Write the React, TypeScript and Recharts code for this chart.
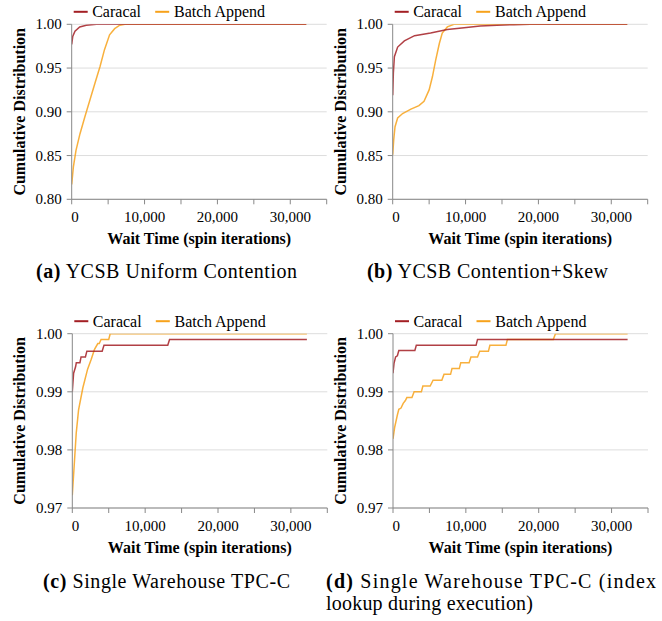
import React from 'react';
import { LineChart, Line, XAxis, YAxis, CartesianGrid } from 'recharts';

type Pair = [number, number];
type Pt = { x: number; y: number };
const toPts = (arr: Pair[]): Pt[] => arr.map(([x, y]) => ({ x, y }));

const FONT = "'Liberation Serif', 'Times New Roman', serif";

const seriesNames = ['Caracal', 'Batch Append'];
const seriesColors = ['#a31f24', '#f7a21b'];

const xTicks = [0, 5000, 10000, 15000, 20000, 25000, 30000, 35000];
const xLabelTicks = [0, 10000, 20000, 30000];
const yTicksWide = [0.8, 0.85, 0.9, 0.95, 1.0];
const yTicksNarrow = [0.97, 0.98, 0.99, 1.0];

const xTitle = 'Wait Time (spin iterations)';
const yTitle = 'Cumulative Distribution';

// (a) YCSB Uniform Contention
const uniformCaracal: Pair[] = [
  [0, 0.977], [140, 0.986], [450, 0.992], [1100, 0.997], [2000, 0.999], [3400, 1.0], [32200, 1.0],
];
const uniformBatch: Pair[] = [
  [0, 0.817], [230, 0.837], [590, 0.856], [1140, 0.875], [1800, 0.894], [2500, 0.9135],
  [3200, 0.933], [3900, 0.952], [4500, 0.971], [5200, 0.988], [5900, 0.995], [6600, 0.999],
  [7300, 1.0], [32200, 1.0],
];

// (b) YCSB Contention+Skew
const skewCaracal: Pair[] = [
  [0, 0.919], [90, 0.944], [230, 0.963], [680, 0.974], [1600, 0.981], [3000, 0.987],
  [5200, 0.99], [7500, 0.994], [9800, 0.996], [12000, 0.998], [14300, 0.999],
  [16600, 0.9996], [18900, 1.0], [32200, 1.0],
];
const skewBatch: Pair[] = [
  [0, 0.851], [140, 0.868], [320, 0.883], [680, 0.893], [1360, 0.898], [2500, 0.903],
  [3600, 0.907], [4300, 0.912], [5000, 0.925], [5450, 0.94], [5900, 0.959], [6400, 0.978],
  [6800, 0.99], [7500, 0.997], [8400, 1.0], [32200, 1.0],
];

// (c) Single Warehouse TPC-C
const tpccCaracal: Pair[] = [
  [0, 0.99], [180, 0.9932], [450, 0.9943], [550, 0.995], [1050, 0.995], [1200, 0.996],
  [1800, 0.996], [2000, 0.997], [4100, 0.997], [4350, 0.998], [13100, 0.998],
  [13350, 0.999], [32200, 0.999],
];
const tpccBatch: Pair[] = [
  [0, 0.9722], [310, 0.9783], [540, 0.9829], [860, 0.9869], [1450, 0.9907], [2100, 0.9939],
  [2600, 0.9956], [3050, 0.9973], [3500, 0.9983], [3700, 0.9983], [3950, 0.999],
  [5000, 0.999], [5200, 1.0], [32200, 1.0],
];

// (d) Single Warehouse TPC-C (index lookup during execution)
const indexCaracal: Pair[] = [
  [0, 0.9932], [140, 0.9949], [360, 0.996], [600, 0.9962], [800, 0.9971], [3000, 0.9971],
  [3200, 0.998], [11400, 0.998], [11600, 0.999], [32200, 0.999],
];
const indexBatch: Pair[] = [
  [0, 0.9819], [230, 0.9839], [600, 0.986], [800, 0.987], [1100, 0.9872], [1400, 0.988],
  [1700, 0.9885], [1900, 0.989], [2600, 0.989], [2900, 0.99], [3900, 0.99], [4100, 0.991],
  [5100, 0.991], [5500, 0.992], [6700, 0.992], [7000, 0.993], [7900, 0.993], [8100, 0.994],
  [9100, 0.994], [9300, 0.995], [10450, 0.995], [10700, 0.996], [11600, 0.996],
  [11900, 0.997], [13100, 0.997], [13300, 0.998], [15500, 0.998], [15700, 0.999],
  [22000, 0.999], [22300, 1.0], [32200, 1.0],
];

const fmtThousands = (v: number) => String(v).replace(/\B(?=(\d{3})+(?!\d))/g, ',');

const XTick = (props: any) => {
  const { x, y, payload } = props;
  const v = payload.value as number;
  if (!xLabelTicks.includes(v)) return <g />;
  return (
    <text
      x={v === 0 ? x - 0.5 : x}
      y={y + 16}
      textAnchor={v === 0 ? 'start' : 'middle'}
      fontSize={15}
      fontFamily={FONT}
      fill="#000"
    >
      {fmtThousands(v)}
    </text>
  );
};

const YTick = (props: any) => {
  const { x, y, payload } = props;
  return (
    <text x={x} y={y + 5} textAnchor="end" fontSize={15} fontFamily={FONT} fill="#000">
      {(payload.value as number).toFixed(2)}
    </text>
  );
};

type PanelProps = {
  left: number;
  top: number;
  plotLeft: number;
  plotTop: number;
  plotWidth: number;
  plotHeight: number;
  yDomain: [number, number];
  yTicks: number[];
  caracal: Pair[];
  batch: Pair[];
};

function Panel(p: PanelProps) {
  const W = 331;
  const H = 260;
  const xAxisH = 30;
  const margin = {
    top: p.plotTop,
    left: 0,
    right: W - p.plotLeft - p.plotWidth,
    bottom: H - p.plotTop - p.plotHeight - xAxisH,
  };
  const plotBottom = p.plotTop + p.plotHeight;
  const legendY = p.plotTop - 12.5;
  return (
    <div style={{ position: 'absolute', left: p.left, top: p.top, width: W, height: H }}>
      <LineChart width={W} height={H} margin={margin}>
        <CartesianGrid horizontal vertical={false} stroke="#dddddd" strokeWidth={1} />
        <XAxis
          type="number"
          dataKey="x"
          domain={[0, 35000]}
          ticks={xTicks}
          interval={0}
          height={xAxisH}
          tickSize={5}
          tickMargin={2}
          stroke="#888"
          tickLine={{ stroke: '#888' }}
          tick={<XTick />}
          allowDataOverflow
        />
        <YAxis
          type="number"
          domain={p.yDomain}
          ticks={p.yTicks}
          interval={0}
          width={p.plotLeft}
          tickSize={5}
          tickMargin={5}
          stroke="#888"
          tickLine={{ stroke: '#888' }}
          tick={<YTick />}
          allowDataOverflow
        />
        <Line
          data={toPts(p.batch)}
          dataKey="y"
          name={seriesNames[1]}
          type="linear"
          stroke={seriesColors[1]}
          strokeWidth={1.5}
          strokeOpacity={0.85}
          dot={false}
          isAnimationActive={false}
        />
        <Line
          data={toPts(p.caracal)}
          dataKey="y"
          name={seriesNames[0]}
          type="linear"
          stroke={seriesColors[0]}
          strokeWidth={1.5}
          strokeOpacity={0.85}
          dot={false}
          isAnimationActive={false}
        />
      </LineChart>
      <svg
        width={W}
        height={H}
        style={{ position: 'absolute', left: 0, top: 0, pointerEvents: 'none' }}
      >
        <text
          transform={`translate(${p.plotLeft - 47}, ${p.plotTop + p.plotHeight / 2}) rotate(-90)`}
          textAnchor="middle"
          fontSize={16}
          fontWeight="bold"
          fontFamily={FONT}
          fill="#000"
        >
          {yTitle}
        </text>
        <text
          x={p.plotLeft + p.plotWidth / 2}
          y={plotBottom + 44.5}
          textAnchor="middle"
          fontSize={16}
          fontWeight="bold"
          fontFamily={FONT}
          fill="#000"
        >
          {xTitle}
        </text>
        <line
          x1={p.plotLeft + 2}
          x2={p.plotLeft + 16}
          y1={legendY}
          y2={legendY}
          stroke={seriesColors[0]}
          strokeWidth={2}
        />
        <text x={p.plotLeft + 20.5} y={legendY + 5.5} fontSize={16} fontFamily={FONT} fill="#000">
          {seriesNames[0]}
        </text>
        <line
          x1={p.plotLeft + 83.5}
          x2={p.plotLeft + 97.5}
          y1={legendY}
          y2={legendY}
          stroke={seriesColors[1]}
          strokeWidth={2}
        />
        <text x={p.plotLeft + 102.3} y={legendY + 5.5} fontSize={16} fontFamily={FONT} fill="#000">
          {seriesNames[1]}
        </text>
      </svg>
    </div>
  );
}

const captions = [
  { x: 36, y: 277.5, len: 261, tag: '(a)', text: ' YCSB Uniform Contention' },
  { x: 367, y: 277.5, len: 241, tag: '(b)', text: ' YCSB Contention+Skew' },
  { x: 43, y: 587.5, len: 247, tag: '(c)', text: ' Single Warehouse TPC-C' },
  { x: 326, y: 587.5, len: 330, tag: '(d)', text: ' Single Warehouse TPC-C (index' },
  { x: 326, y: 609.5, len: 207, tag: '', text: 'lookup during execution)' },
];

export default function App() {
  return (
    <div
      style={{
        position: 'absolute',
        left: 0,
        top: 0,
        width: 662,
        height: 621,
        background: '#fff',
        overflow: 'hidden',
      }}
    >
      <Panel
        left={0}
        top={0}
        plotLeft={71.7}
        plotTop={24.3}
        plotWidth={255}
        plotHeight={175}
        yDomain={[0.8, 1.0]}
        yTicks={yTicksWide}
        caracal={uniformCaracal}
        batch={uniformBatch}
      />
      <Panel
        left={331}
        top={0}
        plotLeft={61.7}
        plotTop={24.3}
        plotWidth={255}
        plotHeight={175}
        yDomain={[0.8, 1.0]}
        yTicks={yTicksWide}
        caracal={skewCaracal}
        batch={skewBatch}
      />
      <Panel
        left={0}
        top={305}
        plotLeft={72.3}
        plotTop={28.7}
        plotWidth={255}
        plotHeight={174.3}
        yDomain={[0.97, 1.0]}
        yTicks={yTicksNarrow}
        caracal={tpccCaracal}
        batch={tpccBatch}
      />
      <Panel
        left={331}
        top={305}
        plotLeft={62}
        plotTop={28.7}
        plotWidth={255}
        plotHeight={174.3}
        yDomain={[0.97, 1.0]}
        yTicks={yTicksNarrow}
        caracal={indexCaracal}
        batch={indexBatch}
      />
      <svg
        width={662}
        height={621}
        style={{ position: 'absolute', left: 0, top: 0, pointerEvents: 'none' }}
      >
        {captions.map((c, i) => (
          <text
            key={i}
            x={c.x}
            y={c.y}
            fontSize={20}
            fontFamily={FONT}
            fill="#000"
            textLength={c.len}
            lengthAdjust="spacing"
          >
            {c.tag ? <tspan fontWeight="bold">{c.tag}</tspan> : null}
            {c.text}
          </text>
        ))}
      </svg>
    </div>
  );
}
